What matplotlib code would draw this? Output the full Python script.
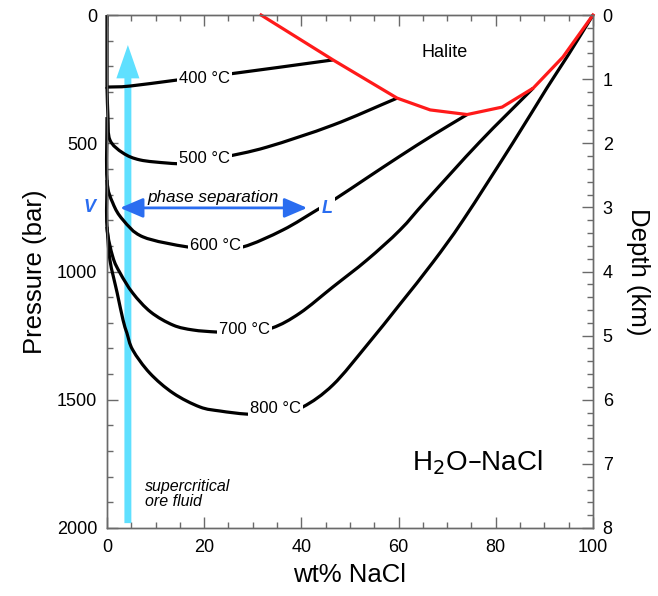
import matplotlib
matplotlib.use("Agg")
import matplotlib.pyplot as plt
import numpy as np
from matplotlib.path import Path
from matplotlib.patches import PathPatch

plt.rcParams['font.family'] = ['Liberation Sans', 'DejaVu Sans']

# Isotherms in the H2O-NaCl system: salinity (wt% NaCl) vs pressure (bar)
iso_400_wt = [0, 0, 4.7, 14.6, 25.9, 46.5]
iso_400_p = [0, 281, 277, 253, 228, 175]

iso_500_wt = [0, 0.2, 0.6, 3.3, 6.8, 12.3, 16.0, 20.0, 23.9, 32.9, 46.5, 59.7]
iso_500_p = [281, 398, 487, 538, 565, 577, 580, 572, 555, 515, 429, 324]

iso_600_wt = [0, 0, 1.2, 3.3, 7.4, 16.5, 22.2, 28.0, 36.2, 43.2, 47.3, 53.5, 60.3, 67.1, 74.1]
iso_600_p = [398, 643, 733, 799, 865, 904, 910, 904, 838, 760, 713, 635, 550, 468, 388]

iso_700_wt = [0, 0, 1.2, 2.7, 5.3, 9.0, 13.6, 17.7, 22.6, 28.0, 34.0, 39.7, 46.5, 53.5, 60.3, 65.8, 76.7, 87.7]
iso_700_p = [643, 826, 943, 1006, 1084, 1158, 1209, 1228, 1236, 1240, 1220, 1162, 1060, 955, 838, 721, 495, 285]

iso_800_wt = [0, 0.6, 2.1, 3.3, 4.1, 5.3, 8.8, 13.6, 19.1, 23.3, 28.8, 34.8, 40.3, 46.5, 53.5,
              60.3, 67.1, 73.3, 83.5, 90.5, 94.9, 100]
iso_800_p = [826, 955, 1084, 1189, 1240, 1306, 1396, 1474, 1528, 1544, 1556, 1558, 1528, 1442, 1287,
             1127, 963, 799, 499, 285, 156, 0]

# Halite saturation curve
halite_wt = [31.7, 46.5, 59.7, 66.5, 74.1, 81.3, 87.7, 93.8, 100]
halite_p = [0, 175, 324, 370, 388, 359, 285, 164, 0]

# Isotherm labels: text, wt%, pressure
iso_labels = ["400 °C", "500 °C", "600 °C", "700 °C", "800 °C"]
label_wt = [20.0, 20.1, 22.3, 28.3, 34.6]
label_p = [248, 560, 900, 1225, 1535]

isotherms = [(iso_400_wt, iso_400_p, [1]), (iso_500_wt, iso_500_p, []), (iso_600_wt, iso_600_p, []),
             (iso_700_wt, iso_700_p, []), (iso_800_wt, iso_800_p, [])]


def smooth_path(xs, ys, corners=()):
    """Cubic Bezier path through the points (Catmull-Rom tangents); sharp at corner indices."""
    pts = np.column_stack([xs, ys]).astype(float)
    n = len(pts)
    t_in = np.zeros_like(pts)
    t_out = np.zeros_like(pts)
    for i in range(n):
        if i == 0:
            t = pts[1] - pts[0]
            t_in[i] = t_out[i] = t
        elif i == n - 1:
            t = pts[-1] - pts[-2]
            t_in[i] = t_out[i] = t
        elif i in corners:
            t_in[i] = pts[i] - pts[i - 1]
            t_out[i] = pts[i + 1] - pts[i]
        else:
            t = (pts[i + 1] - pts[i - 1]) / 2
            t_in[i] = t_out[i] = t
    verts = [pts[0]]
    codes = [Path.MOVETO]
    for i in range(n - 1):
        verts += [pts[i] + t_out[i] / 3, pts[i + 1] - t_in[i + 1] / 3, pts[i + 1]]
        codes += [Path.CURVE4] * 3
    return Path(verts, codes)


fig = plt.figure(figsize=(6.58, 5.96), dpi=100)
ax = fig.add_axes([0.1626, 0.1141, 0.7386, 0.8607])

spine_col = '#6a6a6a'

for wt, p, corners in isotherms:
    ax.add_patch(PathPatch(smooth_path(wt, p, corners), fc='none', ec='black', lw=2.3,
                           capstyle='butt', clip_on=False, zorder=3))
ax.plot(halite_wt, halite_p, color='#ff1a1a', lw=2.3, clip_on=False, zorder=4)

white_box = dict(boxstyle='square,pad=0.12', fc='white', ec='none')
for txt, x, y in zip(iso_labels, label_wt, label_p):
    ax.text(x, y, txt, fontsize=12, ha='center', va='center', bbox=white_box, zorder=5)

# Supercritical ore fluid path
ax.annotate("", xy=(4.3, 117), xytext=(4.3, 1981),
            arrowprops=dict(arrowstyle="simple,head_length=1.2,head_width=0.83,tail_width=0.25",
                            mutation_scale=20, fc='#5fe0ff', ec='none', shrinkA=0, shrinkB=0),
            zorder=2)

# Phase separation arrow
blue = '#2a6df0'
ax.annotate("", xy=(41.2, 752), xytext=(2.7, 752),
            arrowprops=dict(arrowstyle="<|-|>,head_length=14,head_width=6", mutation_scale=1,
                            color=blue, lw=2, shrinkA=0, shrinkB=0), zorder=6)
ax.text(21.8, 712, "phase separation", fontsize=12.3, style='italic', ha='center', va='center', zorder=6)
ax.text(-3.5, 752, "V", fontsize=13, style='italic', weight='bold', color=blue,
        ha='center', va='center', clip_on=False, zorder=6)
ax.text(45.3, 755, "L", fontsize=13, style='italic', weight='bold', color=blue,
        ha='center', va='center', bbox=dict(boxstyle='square,pad=0.15', fc='white', ec='none'), zorder=6)

ax.text(69.5, 148, "Halite", fontsize=13, ha='center', va='center')
ax.text(76.2, 1745, "H$_2$O–NaCl", fontsize=20, ha='center', va='center')
ax.text(7.8, 1869, "supercritical\nore fluid", fontsize=11.5, style='italic', ha='left', va='center',
        linespacing=1.0)

ax.set_xlim(0, 100)
ax.set_ylim(2000, 0)
ax.set_xticks([0, 20, 40, 60, 80, 100])
ax.set_xticks(range(0, 101, 5), minor=True)
ax.set_yticks([0, 500, 1000, 1500, 2000])
ax.set_yticks(range(0, 2001, 100), minor=True)
ax.tick_params(which='both', direction='in', top=True, right=False, color=spine_col,
               labelsize=13, width=1)
ax.tick_params(which='major', length=8)
ax.tick_params(which='minor', length=4)
ax.tick_params(axis='y', pad=7)
ax.tick_params(axis='x', pad=8)
ax.set_xlabel("wt% NaCl", fontsize=18.5, labelpad=5)
ax.set_ylabel("Pressure (bar)", fontsize=18.5, labelpad=7)
for s in ax.spines.values():
    s.set_color(spine_col)
    s.set_linewidth(1)

ax2 = ax.twinx()
ax2.set_ylim(8, 0)
ax2.set_yticks(range(0, 9))
ax2.set_yticks([i * 0.2 for i in range(41)], minor=True)
ax2.tick_params(which='both', direction='in', color=spine_col, labelsize=13, width=1, pad=7)
ax2.tick_params(which='major', length=8)
ax2.tick_params(which='minor', length=4)
ax2.set_ylabel("Depth (km)", fontsize=18.5, rotation=270, labelpad=27)
for s in ax2.spines.values():
    s.set_color(spine_col)
    s.set_linewidth(1)

fig.savefig("out.png", dpi=100)
